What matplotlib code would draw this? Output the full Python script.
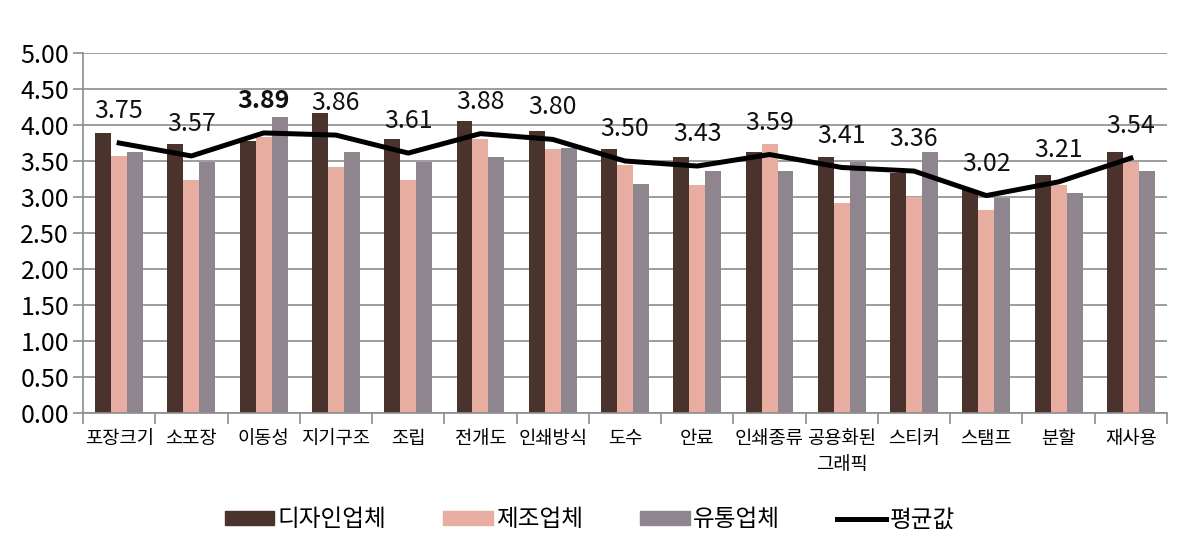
import matplotlib
matplotlib.use("Agg")
import matplotlib.pyplot as plt
import numpy as np
from matplotlib.patches import Patch
from matplotlib.lines import Line2D

plt.rcParams["font.family"] = ["Noto Sans CJK KR", "DejaVu Sans"]

# 항목
categories = ["포장크기", "소포장", "이동성", "지기구조", "조립", "전개도", "인쇄방식", "도수",
              "안료", "인쇄종류", "공용화된\n그래픽", "스티커", "스탬프", "분할", "재사용"]

# 업체별 값
design = [3.89, 3.74, 3.78, 4.17, 3.81, 4.06, 3.92, 3.66, 3.56, 3.63, 3.56, 3.33, 3.10, 3.31, 3.63]
maker = [3.57, 3.24, 3.83, 3.41, 3.24, 3.81, 3.66, 3.45, 3.16, 3.74, 2.91, 3.00, 2.82, 3.16, 3.49]
dist = [3.62, 3.49, 4.11, 3.62, 3.49, 3.56, 3.68, 3.18, 3.36, 3.36, 3.49, 3.62, 2.99, 3.06, 3.36]
average = [3.75, 3.57, 3.89, 3.86, 3.61, 3.88, 3.80, 3.50, 3.43, 3.59, 3.41, 3.36, 3.02, 3.21, 3.54]

c_design = "#4a332d"
c_maker = "#e6ada0"
c_dist = "#8e858f"

fig = plt.figure(figsize=(11.8, 5.48), dpi=100)
ax = fig.add_axes([83 / 1180, 1 - 413 / 548, 1084 / 1180, 360 / 548])

x = np.arange(len(categories))
w = 0.221
ax.bar(x - w, design, w, color=c_design, zorder=2)
ax.bar(x, maker, w, color=c_maker, zorder=2)
ax.bar(x + w, dist, w, color=c_dist, zorder=2)
ax.plot(x, average, color="black", lw=3.6, zorder=3, solid_joinstyle="round")

# 평균값 라벨
for i, v in enumerate(average):
    bold = (i == 2)
    ax.annotate(f"{v:.2f}", (x[i], v), xytext=(0, 23), textcoords="offset points",
                ha="center", va="center", fontsize=18,
                fontweight="bold" if bold else "light", color="#111111")

ax.set_xlim(-0.5, len(categories) - 0.5)
ax.set_ylim(0, 5)
ax.set_yticks(np.arange(0, 5.01, 0.5))
ax.set_yticklabels([f"{t:.2f}" for t in np.arange(0, 5.01, 0.5)], fontsize=18, fontweight="light")
ax.yaxis.grid(True, color="#8c8c8c", lw=1.2, zorder=0)
ax.set_axisbelow(True)

ax.set_xticks(x)
ax.set_xticklabels(categories, fontsize=13.5, fontweight="light", linespacing=1.3)
ax.tick_params(axis="x", length=0, pad=11)
ax.set_xticks(np.arange(-0.5, len(categories)), minor=True)
ax.tick_params(axis="x", which="minor", length=8, color="#8c8c8c", width=1.2)
ax.tick_params(axis="y", length=7, color="#8c8c8c", width=1.2, pad=3)

for s in ["top", "right"]:
    ax.spines[s].set_visible(False)
for s in ["left", "bottom"]:
    ax.spines[s].set_color("#8c8c8c")
    ax.spines[s].set_linewidth(1.2)

handles = [Patch(color=c_design), Patch(color=c_maker), Patch(color=c_dist),
           Line2D([0], [0], color="black", lw=3.6)]
labels = ["디자인업체", "제조업체", "유통업체", "평균값"]
fig.legend(handles, labels, loc="center", bbox_to_anchor=(0.5, 1 - 520 / 548), ncol=4,
           frameon=False, handlelength=2.1, handleheight=0.5,
           handletextpad=0.15, columnspacing=2.4, prop={"size": 17, "weight": "light"})

fig.savefig("out.png", dpi=100)
